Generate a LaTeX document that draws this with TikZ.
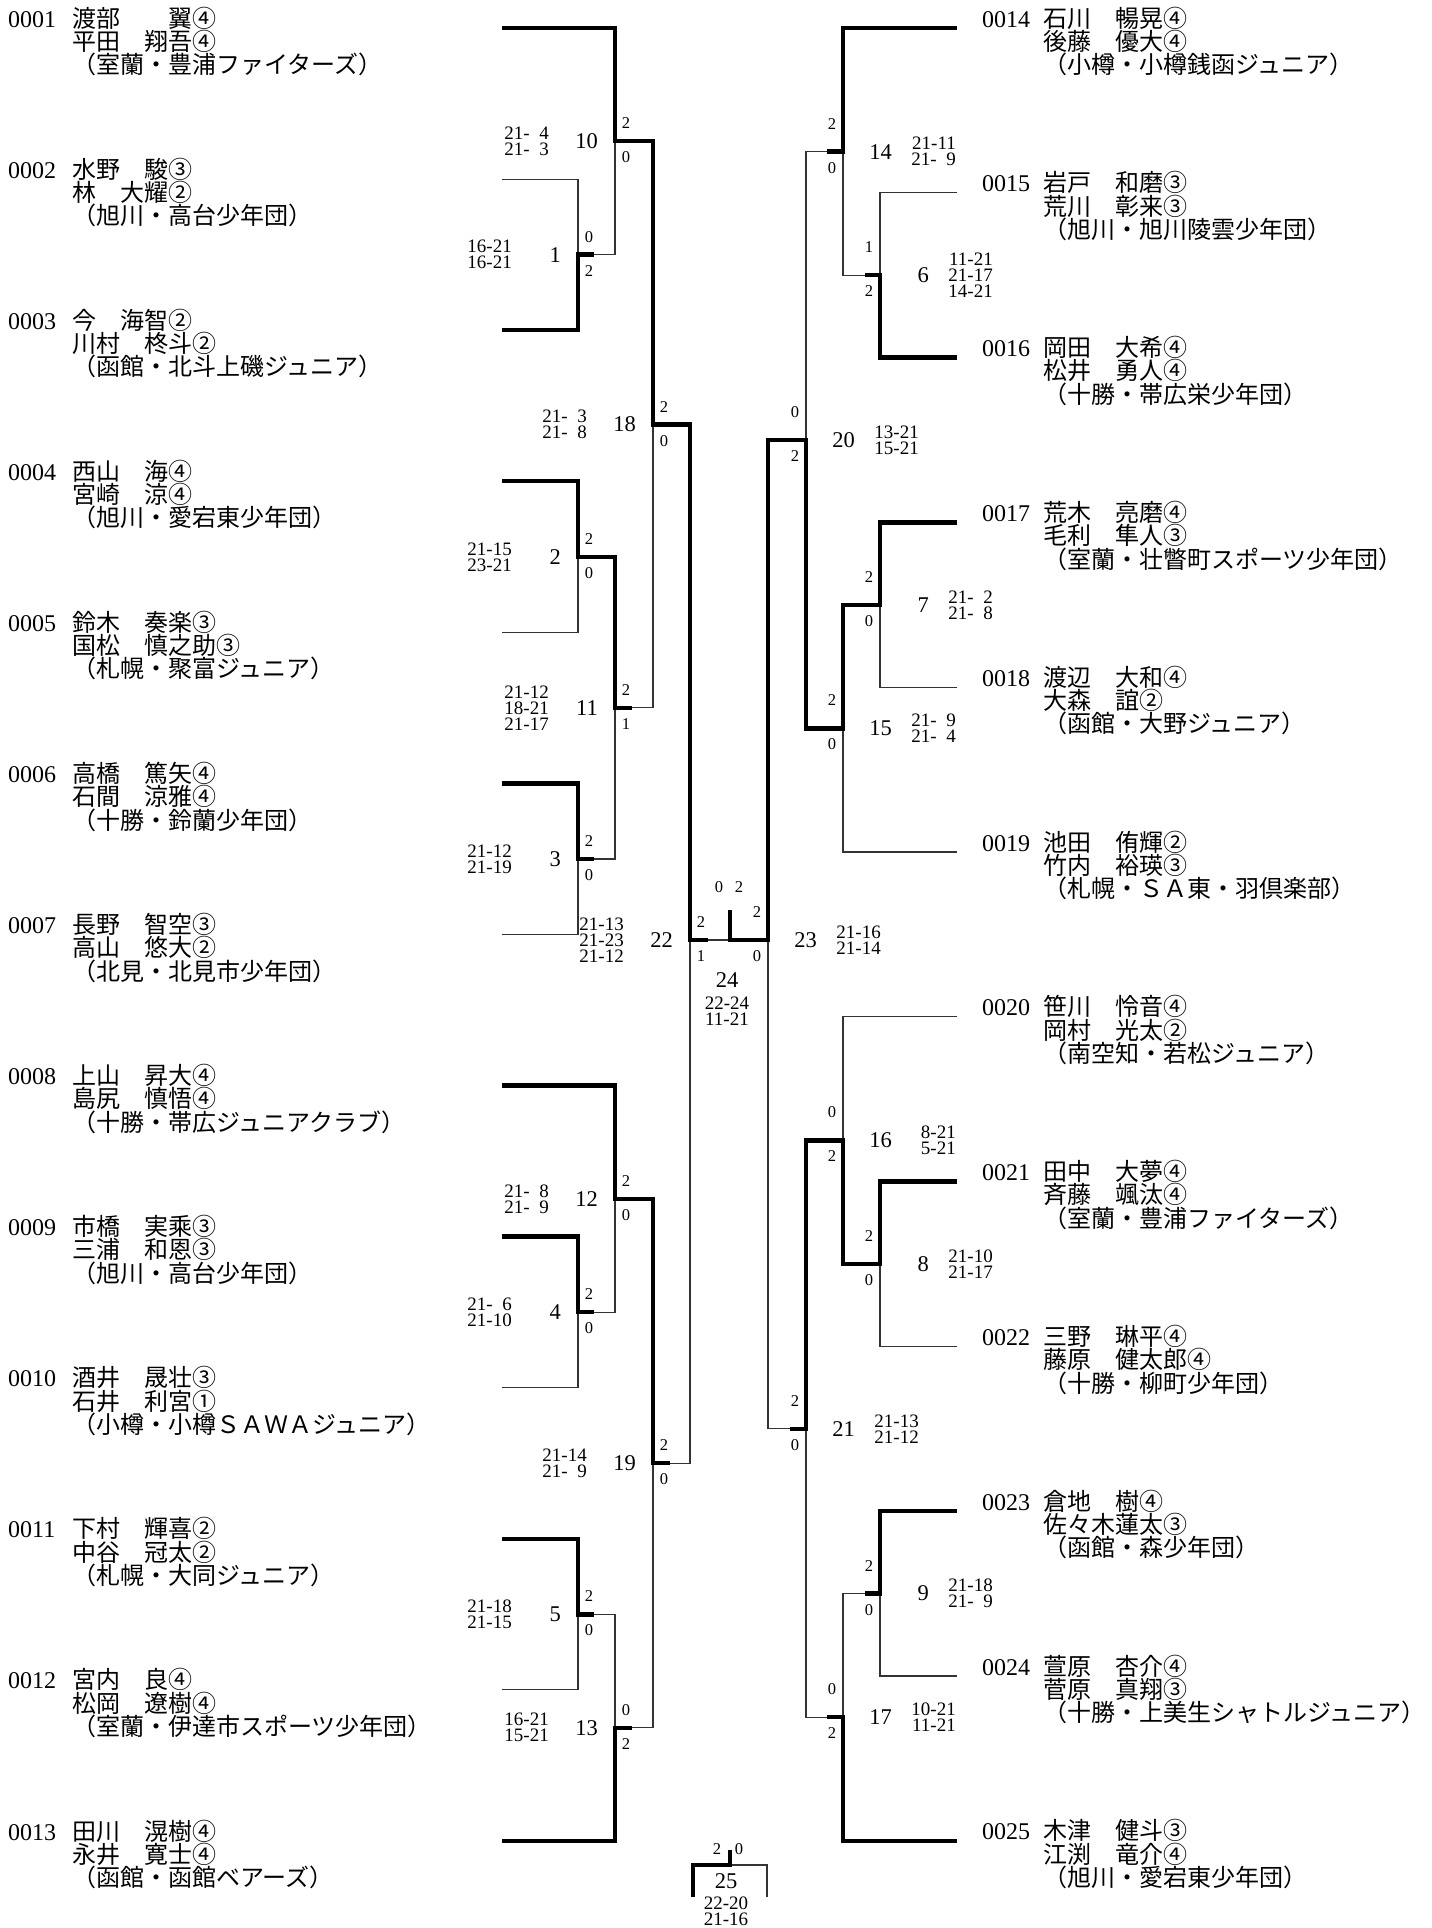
\documentclass[tikz,border=0pt]{standalone}
\usepackage{fontspec}
\setmainfont{Liberation Serif}
\newfontfamily\jp{Noto Sans CJK JP}
\tikzset{
  thk/.style={line width=4.3pt, line join=miter, line cap=butt},
  thn/.style={line width=1.1pt, black!80, line join=miter},
  mnum/.style={inner sep=0pt, font=\fontsize{22.5}{22.5}\selectfont},
  sc/.style={inner sep=0pt, align=right, font=\fontsize{19}{16}\selectfont},
  gm/.style={inner sep=0pt, font=\fontsize{16.5}{16.5}\selectfont},
  pnum/.style={inner sep=0pt, anchor=base west, font=\fontsize{24}{24}\selectfont},
  pname/.style={inner sep=0pt, anchor=base west, font=\jp\fontsize{24}{24}\selectfont},
}
\newcommand\lp[5]{%
  \coordinate (s#1) at (502,#2);
  \node[pnum] (n#1) at (8,#2-1) {#1};
  \node[pname] (a#1) at (72,#2-1) {#3};
  \node[pname] (b#1) at (72,#2+22.3) {#4};
  \node[pname] (c#1) at (72,#2+45.6) {#5};}
\newcommand\rp[5]{%
  \coordinate (s#1) at (957,#2);
  \node[pnum] (n#1) at (982,#2-1) {#1};
  \node[pname] (a#1) at (1043,#2-1) {#3};
  \node[pname] (b#1) at (1043,#2+22.3) {#4};
  \node[pname] (c#1) at (1043,#2+45.6) {#5};}
\newcommand\LM[4]{%
  \node[mnum,anchor=east] (t#1) at ([xshift=-17pt]m#1) {#1};
  \node[gm] (u#1) at ([xshift=11pt,yshift=18pt]m#1) {#2};
  \node[gm] (d#1) at ([xshift=11pt,yshift=-16pt]m#1) {#3};
  \node[sc,anchor=east] (r#1) at ([xshift=-66pt]m#1) {#4};}
\newcommand\RM[4]{%
  \node[mnum,anchor=east] (t#1) at ([xshift=49pt]m#1) {#1};
  \node[gm] (u#1) at ([xshift=-11pt,yshift=28pt]m#1) {#2};
  \node[gm] (d#1) at ([xshift=-11pt,yshift=-16pt]m#1) {#3};
  \node[sc,anchor=east] (r#1) at ([xshift=113pt]m#1) {#4};}
\newcommand\dsp{\enspace}
\begin{document}
\begin{tikzpicture}[x=1pt,y=-1pt]
\useasboundingbox (0,0) rectangle (1432,1928);
% junctions
\coordinate (m1) at (578,254.6);
\coordinate (m10) at (615,141.3);
\coordinate (m18) at (653,424.6);
\coordinate (m2) at (578,556.8);
\coordinate (m11) at (615,707.9);
\coordinate (m3) at (578,859);
\coordinate (m22) at (690,940);
\coordinate (m12) at (615,1198.9);
\coordinate (m4) at (578,1312.2);
\coordinate (m19) at (653,1463.3);
\coordinate (m5) at (578,1614.4);
\coordinate (m13) at (615,1727.7);
\coordinate (m14) at (843,151.6);
\coordinate (m6) at (880,275.2);
\coordinate (m20) at (806,440);
\coordinate (m7) at (880,604.8);
\coordinate (m15) at (843,728.4);
\coordinate (m23) at (768,940);
\coordinate (m16) at (843,1140.4);
\coordinate (m8) at (880,1264);
\coordinate (m21) at (806,1428.8);
\coordinate (m9) at (880,1593.6);
\coordinate (m17) at (843,1717.2);
\coordinate (m24) at (730,940);
\coordinate (m25) at (730,1865);
% players left
\lp{0001}{28}{渡部　　翼④}{平田　翔吾④}{（室蘭・豊浦ファイターズ）}
\lp{0002}{179.1}{水野　駿③}{林　大耀②}{（旭川・高台少年団）}
\lp{0003}{330.2}{今　海智②}{川村　柊斗②}{（函館・北斗上磯ジュニア）}
\lp{0004}{481.2}{西山　海④}{宮崎　涼④}{（旭川・愛宕東少年団）}
\lp{0005}{632.3}{鈴木　奏楽③}{国松　慎之助③}{（札幌・聚富ジュニア）}
\lp{0006}{783.4}{高橋　篤矢④}{石間　涼雅④}{（十勝・鈴蘭少年団）}
\lp{0007}{934.5}{長野　智空③}{高山　悠大②}{（北見・北見市少年団）}
\lp{0008}{1085.6}{上山　昇大④}{島尻　慎悟④}{（十勝・帯広ジュニアクラブ）}
\lp{0009}{1236.6}{市橋　実乘③}{三浦　和恩③}{（旭川・高台少年団）}
\lp{0010}{1387.7}{酒井　晟壮③}{石井　利宮①}{（小樽・小樽ＳＡＷＡジュニア）}
\lp{0011}{1538.8}{下村　輝喜②}{中谷　冠太②}{（札幌・大同ジュニア）}
\lp{0012}{1689.9}{宮内　良④}{松岡　遼樹④}{（室蘭・伊達市スポーツ少年団）}
\lp{0013}{1841}{田川　滉樹④}{永井　寛士④}{（函館・函館ベアーズ）}
% players right
\rp{0014}{28}{石川　暢晃④}{後藤　優大④}{（小樽・小樽銭函ジュニア）}
\rp{0015}{192.8}{岩戸　和磨③}{荒川　彰来③}{（旭川・旭川陵雲少年団）}
\rp{0016}{357.6}{岡田　大希④}{松井　勇人④}{（十勝・帯広栄少年団）}
\rp{0017}{522.4}{荒木　亮磨④}{毛利　隼人③}{（室蘭・壮瞥町スポーツ少年団）}
\rp{0018}{687.2}{渡辺　大和④}{大森　誼②}{（函館・大野ジュニア）}
\rp{0019}{852}{池田　侑輝②}{竹内　裕瑛③}{（札幌・ＳＡ東・羽倶楽部）}
\rp{0020}{1016.8}{笹川　怜音④}{岡村　光太②}{（南空知・若松ジュニア）}
\rp{0021}{1181.6}{田中　大夢④}{斉藤　颯汰④}{（室蘭・豊浦ファイターズ）}
\rp{0022}{1346.4}{三野　琳平④}{藤原　健太郎④}{（十勝・柳町少年団）}
\rp{0023}{1511.2}{倉地　樹④}{佐々木蓮太③}{（函館・森少年団）}
\rp{0024}{1676}{萱原　杏介④}{菅原　真翔③}{（十勝・上美生シャトルジュニア）}
\rp{0025}{1840.8}{木津　健斗③}{江渕　竜介④}{（旭川・愛宕東少年団）}
% thin lines left
\draw[thn] ([xshift=18pt]m22) -- (m24);
\draw[thn] (s0002) -| (m1);
\draw[thn] ([xshift=16pt]m1) -| (m10);
\draw[thn] ([xshift=17pt]m11) -| (m18);
\draw[thn] (s0005) -| (m2);
\draw[thn] ([xshift=16pt]m3) -| (m11);
\draw[thn] (s0007) -| (m3);
\draw[thn] ([xshift=17pt]m19) -| (m22);
\draw[thn] ([xshift=16pt]m4) -| (m12);
\draw[thn] (s0010) -| (m4);
\draw[thn] ([xshift=16pt]m5) -| (m13);
\draw[thn] (s0012) -| (m5);
\draw[thn] ([xshift=17pt]m13) -| (m19);
% thin lines right
\draw[thn] ([xshift=-16pt]m14) -| (m20);
\draw[thn] (s0015) -| (m6);
\draw[thn] ([xshift=-15pt]m6) -| (m14);
\draw[thn] (s0018) -| (m7);
\draw[thn] (s0019) -| (m15);
\draw[thn] (s0020) -| (m16);
\draw[thn] ([xshift=-16pt]m21) -| (m23);
\draw[thn] (s0022) -| (m8);
\draw[thn] ([xshift=-15pt]m9) -| (m17);
\draw[thn] (s0024) -| (m9);
\draw[thn] ([xshift=-16pt]m17) -| (m21);
\draw[thn] (m25) -| ++(37,32);
% thick lines left
\draw[thk] (s0001) -| (m10) -| (m18) -| (m22) -- ++(18,0);
\draw[thk] (s0003) -| (m1) -- ++(16,0);
\draw[thk] (s0004) -| (m2) -| (m11) -- ++(17,0);
\draw[thk] (s0006) -| (m3) -- ++(16,0);
\draw[thk] (s0008) -| (m12) -| (m19) -- ++(17,0);
\draw[thk] (s0009) -| (m4) -- ++(16,0);
\draw[thk] (s0011) -| (m5) -- ++(16,0);
\draw[thk] (s0013) -| (m13) -- ++(17,0);
% thick lines right
\draw[thk] (s0014) -| (m14) -- ++(-16,0);
\draw[thk] (s0016) -| (m6) -- ++(-15,0);
\draw[thk] (s0017) -| (m7) -| (m15) -| (m20) -| (m23) -- (m24) -- ++(0,-30);
\draw[thk] (s0021) -| (m8) -| (m16) -| (m21) -- ++(-16,0);
\draw[thk] (s0023) -| (m9) -- ++(-15,0);
\draw[thk] (s0025) -| (m17) -- ++(-16,0);
\draw[thk] (m25) ++(-37,32) |- (m25) -- ++(0,-15);
% match labels left
\LM{1}{0}{2}{16-21\\16-21}
\LM{10}{2}{0}{21-\dsp4\\21-\dsp3}
\LM{18}{2}{0}{21-\dsp3\\21-\dsp8}
\LM{2}{2}{0}{21-15\\23-21}
\LM{11}{2}{1}{21-12\\18-21\\21-17}
\LM{3}{2}{0}{21-12\\21-19}
\LM{22}{2}{1}{21-13\\21-23\\21-12}
\LM{12}{2}{0}{21-\dsp8\\21-\dsp9}
\LM{4}{2}{0}{21-\dsp6\\21-10}
\LM{19}{2}{0}{21-14\\21-\dsp9}
\LM{5}{2}{0}{21-18\\21-15}
\LM{13}{0}{2}{16-21\\15-21}
% match labels right
\RM{14}{2}{0}{21-11\\21-\dsp9}
\RM{6}{1}{2}{11-21\\21-17\\14-21}
\RM{20}{0}{2}{13-21\\15-21}
\RM{7}{2}{0}{21-\dsp2\\21-\dsp8}
\RM{15}{2}{0}{21-\dsp9\\21-\dsp4}
\RM{16}{0}{2}{8-21\\5-21}
\RM{8}{2}{0}{21-10\\21-17}
\RM{21}{2}{0}{21-13\\21-12}
\RM{9}{2}{0}{21-18\\21-\dsp9}
\RM{17}{0}{2}{10-21\\11-21}
\RM{23}{2}{0}{21-16\\21-14}
% center
\node[mnum] (t24) at (727,980) {24};
\node[sc,align=center] (r24) at (727,1011) {22-24\\11-21};
\node[gm] (u24) at (719,887) {0};
\node[gm] (d24) at (739,887) {2};
\node[mnum] (t25) at (726,1881) {25};
\node[sc,align=center] (r25) at (726,1911) {22-20\\21-16};
\node[gm] (u25) at (717,1849) {2};
\node[gm] (d25) at (739,1849) {0};
\end{tikzpicture}
\end{document}
